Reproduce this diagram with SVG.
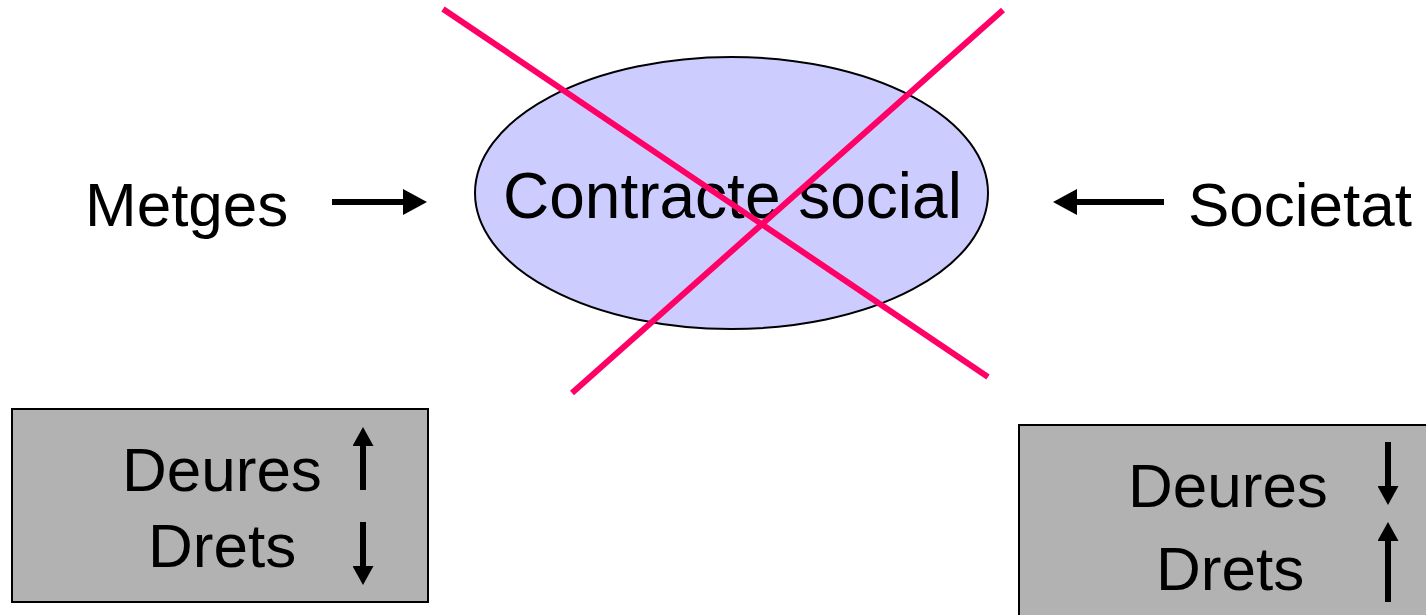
<svg xmlns="http://www.w3.org/2000/svg" width="1426" height="615" viewBox="0 0 1426 615">
<style>
text{font-family:"Liberation Sans",Arial,sans-serif;fill:#000}
.t{font-size:62px}
.box{fill:#B2B2B2;stroke:#000;stroke-width:2}
.arr{stroke:#000;stroke-width:6;fill:none}
.sarr{stroke:#000;stroke-width:6;fill:none}
.x{stroke:#FF0066;stroke-width:6;fill:none}
</style>
<defs>
<marker id="big" markerUnits="userSpaceOnUse" markerWidth="25" markerHeight="26" refX="12" refY="13" orient="auto"><path d="M0,0 L24,13 L0,26 Z" fill="#000"/></marker>
<marker id="small" markerUnits="userSpaceOnUse" markerWidth="20" markerHeight="21" refX="10" refY="10.5" orient="auto"><path d="M0,0 L19,10.5 L0,21 Z" fill="#000"/></marker>
</defs>
<g id="metges"><text class="t" x="85" y="226">Metges</text></g>
<g id="societat"><text class="t" x="1188" y="226">Societat</text></g>
<g id="contracte">
<ellipse cx="731.5" cy="193" rx="256.5" ry="136" fill="#CCCCFF" stroke="#000" stroke-width="2"/>
<text x="503" y="218" style="font-size:64px">Contracte social</text>
</g>
<g id="box-metges">
<rect class="box" x="12" y="409" width="416" height="193"/>
<text class="t" x="122" y="491">Deures</text>
<text class="t" x="148" y="567">Drets</text>
<line class="sarr" x1="363" y1="490" x2="363" y2="436" marker-end="url(#small)"/>
<line class="sarr" x1="363" y1="522" x2="363" y2="576" marker-end="url(#small)"/>
</g>
<g id="box-societat">
<rect class="box" x="1019" y="425" width="420" height="200"/>
<text class="t" x="1128" y="507">Deures</text>
<text class="t" x="1156" y="590">Drets</text>
<line class="sarr" x1="1388" y1="442" x2="1388" y2="496" marker-end="url(#small)"/>
<line class="sarr" x1="1388" y1="602" x2="1388" y2="531" marker-end="url(#small)"/>
</g>
<g id="connectors">
<line class="arr" x1="332" y1="202" x2="415" y2="202" marker-end="url(#big)"/>
<line class="arr" x1="1164" y1="202" x2="1065" y2="202" marker-end="url(#big)"/>
</g>
<g id="cross">
<line class="x" x1="443" y1="9" x2="988" y2="377"/>
<line class="x" x1="1003" y1="10" x2="572" y2="393"/>
</g>
</svg>
